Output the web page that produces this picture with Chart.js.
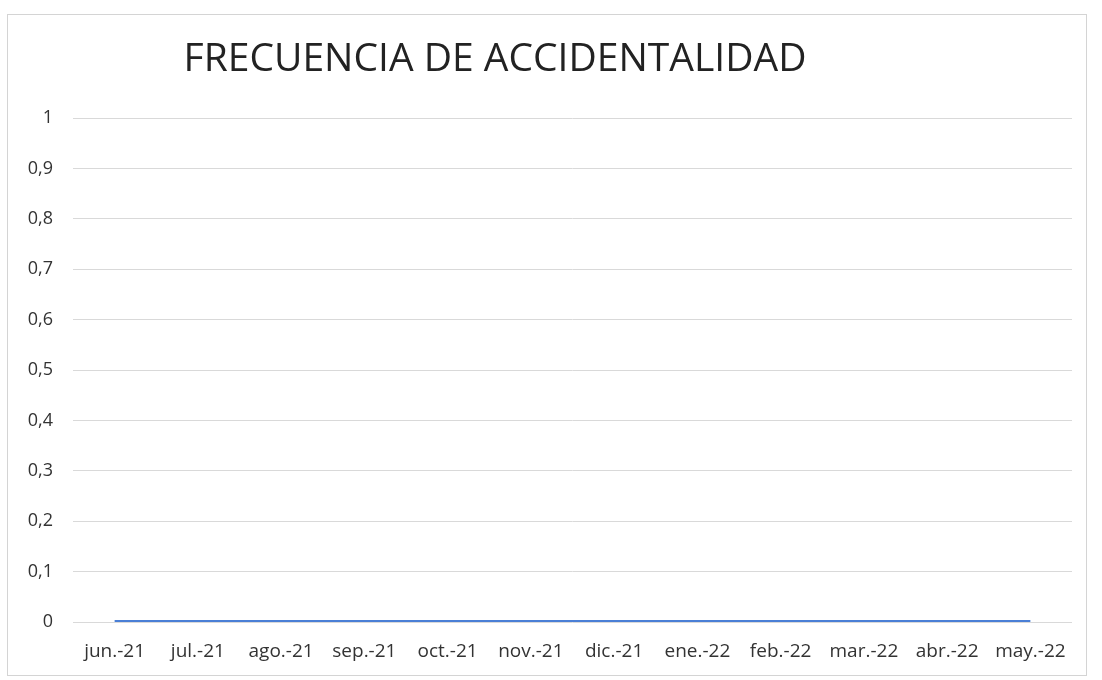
<!DOCTYPE html>
<html>
<head>
<meta charset="utf-8">
<script src="https://cdn.jsdelivr.net/npm/chart.js@4"></script>
<style>
  html, body { margin: 0; padding: 0; background: #fff; }
  #box {
    position: absolute; left: 7px; top: 14px;
    width: 1078px; height: 660px;
    border: 1px solid #d4d4d4;
  }
</style>
</head>
<body>
<div id="box"><canvas id="freqChart"></canvas></div>
<script>
const chartTitle = 'FRECUENCIA DE ACCIDENTALIDAD';
const months = ['jun.-21', 'jul.-21', 'ago.-21', 'sep.-21', 'oct.-21', 'nov.-21',
                'dic.-21', 'ene.-22', 'feb.-22', 'mar.-22', 'abr.-22', 'may.-22'];
const frecuencia = [0, 0, 0, 0, 0, 0, 0, 0, 0, 0, 0, 0];
const yTicks = [0, 0.1, 0.2, 0.3, 0.4, 0.5, 0.6, 0.7, 0.8, 0.9, 1];

// the title sits a bit left of centre in the original, so draw it by hand
const titlePlugin = {
    id: 'leftTitle',
    afterDraw(chart) {
        const c = chart.ctx;
        c.save();
        c.fillStyle = '#222';
        c.font = '39px "Open Sans"';
        c.textAlign = 'center';
        c.textBaseline = 'middle';
        c.fillText(chartTitle, 487, 45);
        c.restore();
    }
};

const ctx = document.getElementById('freqChart').getContext('2d');

new Chart(ctx, {
    type: 'line',
    data: {
        labels: months,
        datasets: [{
            label: 'Frecuencia',
            data: frecuencia,
            borderColor: '#4a7fd6',
            borderWidth: 4,
            pointRadius: 0,
            tension: 0
        }]
    },
    options: {
        responsive: true,
        maintainAspectRatio: false,
        animation: false,
        layout: { padding: { left: 0, right: 14, top: 103, bottom: 0 } },
        plugins: {
            legend: { display: false },
            tooltip: { enabled: false }
        },
        scales: {
            y: {
                min: 0,
                max: 1,
                afterBuildTicks: (scale) => { scale.ticks = yTicks.map(v => ({ value: v })); },
                afterFit: (scale) => { scale.width = 65; },
                ticks: {
                    color: '#333',
                    padding: 20,
                    font: { family: 'Open Sans', size: 18 },
                    callback: (v) => String(Math.round(v * 10) / 10).replace('.', ',')
                },
                grid: { color: '#d9d9d9', drawTicks: false },
                border: { display: false }
            },
            x: {
                offset: true,
                afterFit: (scale) => { scale.height = 53; },
                ticks: {
                    color: '#333',
                    padding: 10,
                    maxRotation: 0,
                    autoSkip: false,
                    font: { family: 'Open Sans', size: 19 }
                },
                grid: { display: false },
                border: { display: false }
            }
        }
    },
    plugins: [titlePlugin]
});
</script>
</body>
</html>
